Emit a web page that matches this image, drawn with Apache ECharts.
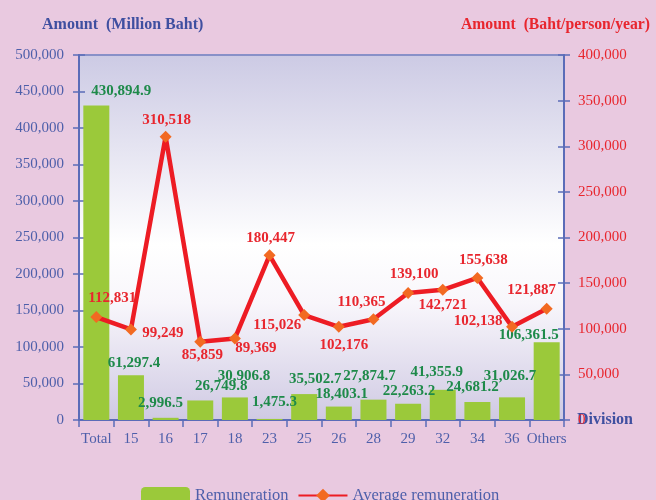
<!DOCTYPE html>
<html>
<head>
<meta charset="utf-8">
<script src="https://cdn.jsdelivr.net/npm/echarts@6/dist/echarts.min.js"></script>
<style>
  html, body { margin: 0; padding: 0; background: #E9C9E0; }
  #chart { width: 656px; height: 500px; }
</style>
</head>
<body>
<div id="chart"></div>
<script>
const categories = ['Total', '15', '16', '17', '18', '23', '25', '26', '28', '29', '32', '34', '36', 'Others'];
const remuneration = [430894.9, 61297.4, 2996.5, 26749.8, 30906.8, 1475.3, 35502.7, 18403.1, 27874.7, 22263.2, 41355.9, 24681.2, 31026.7, 106361.5];
const avgRemuneration = [112831, 99249, 310518, 85859, 89369, 180447, 115026, 102176, 110365, 139100, 142721, 155638, 102138, 121887];

// label nudges, copied from where the labels sit in the picture
const barLabelShift = [[25, -2], [3, 0], [-5, -2], [21, -2], [9, -9], [5, -4], [11, -2], [3, 0], [-4, -11], [1, 0], [-6, -5], [-5, -2], [-2, -9], [-18, 5]];
const lineLabelShift = [[16, 0], [32, 22], [1, 2], [2, 32], [21, 28], [1, 1], [-27, 29], [5, 37], [-12, 1], [6, 0], [0, 34], [6, 1], [-34, 13], [-15, 0]];

const serif = '"Liberation Serif", "DejaVu Serif", serif';
const blue = '#4E5FAA';
const red = '#E8262E';
const axisBlue = '#5B6CB8';

const chart = echarts.init(document.getElementById('chart'));

const fmtNum = v => v.toLocaleString('en-US');
const fmtDec = v => v.toLocaleString('en-US', { minimumFractionDigits: 1, maximumFractionDigits: 1 });

const barData = remuneration.map((v, i) => ({ value: v, label: { offset: barLabelShift[i] } }));
const lineData = avgRemuneration.map((v, i) => ({ value: v, label: { offset: lineLabelShift[i] } }));

const option = {
    backgroundColor: '#E9C9E0',
    animation: false,
    textStyle: { fontFamily: serif },
    title: [
        {
            text: 'Amount  (Million Baht)',
            left: 37, top: 12,
            textStyle: { fontFamily: serif, fontSize: 16, fontWeight: 'bold', color: '#3F4FA0' }
        },
        {
            text: 'Amount  (Baht/person/year)',
            right: 1, top: 12,
            textStyle: { fontFamily: serif, fontSize: 15.7, fontWeight: 'bold', color: red }
        }
    ],
    legend: {
        left: 136, top: 482,
        itemWidth: 49, itemHeight: 17, itemGap: 9,
        textStyle: { fontFamily: serif, fontSize: 16.5, color: blue },
        data: ['Remuneration', 'Average remuneration']
    },
    grid: {
        left: 79, right: 92, top: 55, bottom: 80,
        show: true,
        borderColor: '#8890C8', borderWidth: 2,
        backgroundColor: new echarts.graphic.LinearGradient(0, 0, 0, 1, [
            { offset: 0, color: '#CCCAE4' },
            { offset: 0.52, color: '#FFFFFF' },
            { offset: 0.68, color: '#F8F6FB' },
            { offset: 1, color: '#CFC9E3' }
        ])
    },
    xAxis: {
        type: 'category',
        data: categories,
        name: 'Division',
        nameLocation: 'end',
        nameGap: 13,
        nameMoveOverlap: false,
        nameTextStyle: { fontFamily: serif, fontSize: 16, fontWeight: 'bold', color: '#3F4FA0', verticalAlign: 'middle' },
        axisLine: { lineStyle: { color: axisBlue, width: 2 } },
        axisTick: { show: true, length: 7, lineStyle: { color: axisBlue, width: 1.5 } },
        axisLabel: { fontFamily: serif, fontSize: 15, color: blue, margin: 12, interval: 0 }
    },
    yAxis: [
        {
            type: 'value', position: 'left',
            min: 0, max: 500000, interval: 50000,
            axisLine: { show: true, lineStyle: { color: axisBlue, width: 2 } },
            axisTick: { show: true, length: 6, lineStyle: { color: axisBlue, width: 1.5 } },
            axisLabel: { fontFamily: serif, fontSize: 15, color: blue, margin: 15, formatter: fmtNum },
            splitLine: { show: false }
        },
        {
            type: 'value', position: 'right',
            min: 0, max: 400000, interval: 50000,
            axisLine: { show: true, lineStyle: { color: axisBlue, width: 2 } },
            axisTick: { show: true, length: 6, lineStyle: { color: axisBlue, width: 1.5 } },
            axisLabel: { fontFamily: serif, fontSize: 15, color: red, margin: 14, formatter: fmtNum },
            splitLine: { show: false }
        },
        // inner halves of the ticks, so they cross the axis lines
        {
            type: 'value', position: 'left',
            min: 0, max: 500000, interval: 50000,
            axisLine: { show: false },
            axisTick: { show: true, inside: true, length: 6, lineStyle: { color: axisBlue, width: 1.5 } },
            axisLabel: { show: false },
            splitLine: { show: false }
        },
        {
            type: 'value', position: 'right',
            min: 0, max: 400000, interval: 50000,
            axisLine: { show: false },
            axisTick: { show: true, inside: true, length: 6, lineStyle: { color: axisBlue, width: 1.5 } },
            axisLabel: { show: false },
            splitLine: { show: false }
        }
    ],
    series: [
        {
            name: 'Remuneration',
            type: 'bar',
            yAxisIndex: 0,
            barWidth: 26,
            itemStyle: { color: '#9BC93A' },
            label: {
                show: true, position: 'top', distance: 5,
                fontFamily: serif, fontSize: 15, fontWeight: 'bold', color: '#1E8A4A',
                formatter: p => fmtDec(p.value)
            },
            data: barData
        },
        {
            name: 'Average remuneration',
            type: 'line',
            yAxisIndex: 1,
            symbol: 'diamond',
            symbolSize: 12,
            lineStyle: { color: '#ED1C24', width: 4.5 },
            itemStyle: { color: '#F26A22' },
            label: {
                show: true, position: 'top', distance: 5,
                fontFamily: serif, fontSize: 15, fontWeight: 'bold', color: red,
                formatter: p => fmtNum(p.value)
            },
            z: 3,
            data: lineData
        }
    ]
};

chart.setOption(option);
</script>
</body>
</html>
